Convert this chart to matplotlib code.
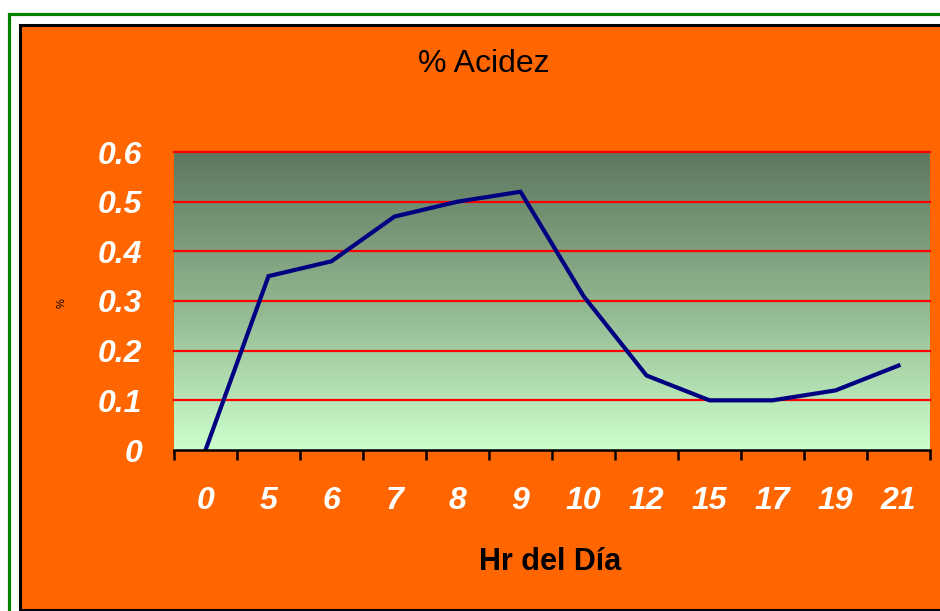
import matplotlib
matplotlib.use("Agg")
import matplotlib.pyplot as plt
import matplotlib.patches as mpatches
import numpy as np
from matplotlib.colors import LinearSegmentedColormap

# data
hours = ["0", "5", "6", "7", "8", "9", "10", "12", "15", "17", "19", "21"]
acidez = [0.0, 0.35, 0.38, 0.47, 0.50, 0.52, 0.31, 0.15, 0.10, 0.10, 0.12, 0.17]
y_ticks = [0, 0.1, 0.2, 0.3, 0.4, 0.5, 0.6]
y_labels = ["0", "0.1", "0.2", "0.3", "0.4", "0.5", "0.6"]

ORANGE = "#FF6600"
W, H = 940, 611

plt.rcParams["font.family"] = ["Liberation Sans", "DejaVu Sans"]

fig = plt.figure(figsize=(W / 100, H / 100), dpi=100, facecolor="white")

# outer frames: green line, then orange panel with black edge
fig.patches.append(mpatches.Rectangle((8.7 / W, -0.1), 1.2, 1 - 13.5 / H + 0.1,
                                      transform=fig.transFigure, fill=False,
                                      edgecolor="#008000", linewidth=2.3, zorder=-10))
fig.patches.append(mpatches.Rectangle((20 / W, 1 - 610 / H), 1.1, (610 - 25) / H,
                                      transform=fig.transFigure, facecolor=ORANGE,
                                      edgecolor="black", linewidth=2.2, zorder=-9))

ax = fig.add_axes([174 / W, 1 - 450 / H, 756 / W, 298 / H])
ax.set_facecolor("none")
ax.set_zorder(2)

n = len(hours)
x = np.arange(n)
ax.set_xlim(-0.5, n - 0.5)
ax.set_ylim(0, 0.6)

# vertical gradient background
cmap = LinearSegmentedColormap.from_list("bg", ["#ccffcc", "#8fb48f", "#5e775e"])
grad = np.linspace(0, 1, 256).reshape(-1, 1)
ax.imshow(grad, extent=[-0.5, n - 0.5, 0, 0.6], origin="lower", aspect="auto",
          cmap=cmap, zorder=0)

for v in y_ticks[1:]:
    ax.axhline(v, color="red", linewidth=1.6, zorder=1, clip_on=False)

ax.plot(x, acidez, color="#000080", linewidth=3, zorder=3, solid_joinstyle="miter")

for side in ["left", "right", "top"]:
    ax.spines[side].set_visible(False)
ax.spines["bottom"].set_color("black")
ax.spines["bottom"].set_linewidth(1.8)
ax.spines["bottom"].set_zorder(4)

ax.set_xticks(x)
ax.set_xticklabels(hours)
ax.set_xticks(np.arange(n + 1) - 0.5, minor=True)
ax.tick_params(axis="x", which="major", length=0, pad=26)
ax.tick_params(axis="x", which="minor", length=7, width=1.8, direction="out", color="black")
ax.set_yticks(y_ticks)
ax.set_yticklabels(y_labels)
ax.tick_params(axis="y", length=0, pad=23)
for lab in ax.get_xticklabels() + ax.get_yticklabels():
    lab.set_color("white")
    lab.set_fontsize(23)
    lab.set_fontweight("bold")
    lab.set_fontstyle("italic")

fig.text(484 / W, 1 - 64 / H, "% Acidez", ha="center", va="center", fontsize=23, color="black")
fig.text(550 / W, 1 - 562 / H, "Hr del Día", ha="center", va="center", fontsize=22,
         fontweight="bold", color="black")
fig.text(62 / W, 1 - 303 / H, "%", ha="center", va="center", fontsize=8, rotation=90,
         color="black")

fig.savefig("out.png", dpi=100, facecolor="white")
